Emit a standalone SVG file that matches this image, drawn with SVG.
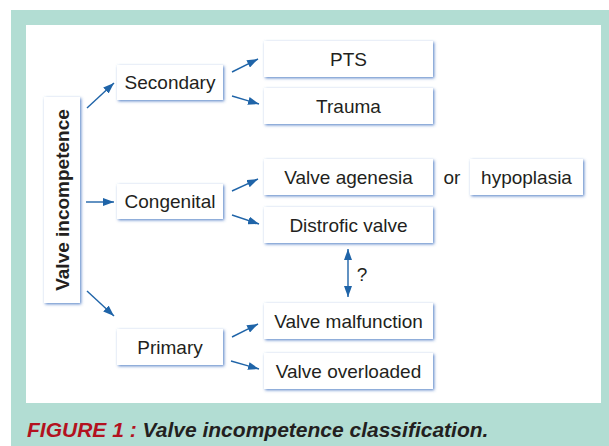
<svg xmlns="http://www.w3.org/2000/svg" width="609" height="446" viewBox="0 0 609 446">
<style>
.box{fill:#fff;filter:url(#glow)}
.t{font-family:"Liberation Sans",Arial,sans-serif;font-size:19px;fill:#231f20;text-anchor:middle}
.c{stroke:#1f64a8;stroke-width:1.4;fill:none;marker-end:url(#ah)}
</style>
<defs>
<filter id="glow" x="-20%" y="-20%" width="140%" height="140%">
<feDropShadow dx="1.2" dy="1.2" stdDeviation="1.6" flood-color="#3f6fbf" flood-opacity="0.85"/>
</filter>
<marker id="ah" markerUnits="userSpaceOnUse" markerWidth="11" markerHeight="8" refX="11" refY="4" orient="auto-start-reverse">
<path d="M0,0 L11,4 L0,8 z" fill="#1f64a8"/>
</marker>
</defs>
<rect x="11" y="10" width="598" height="436" fill="#b2ddd3"/>
<rect x="26" y="25" width="575" height="378" fill="#fff"/>

<g id="valve-incompetence">
<rect class="box" x="44" y="97" width="36" height="206"/>
<text class="t" transform="translate(68.5,200) rotate(-90)" style="font-weight:bold">Valve incompetence</text>
</g>
<g id="secondary"><rect class="box" x="117" y="65" width="106" height="35"/><text class="t" x="170" y="89">Secondary</text></g>
<g id="congenital"><rect class="box" x="117" y="184" width="106" height="35"/><text class="t" x="170" y="208">Congenital</text></g>
<g id="primary"><rect class="box" x="117" y="329" width="106" height="36"/><text class="t" x="170" y="354">Primary</text></g>
<g id="pts"><rect class="box" x="264" y="41" width="169" height="36"/><text class="t" x="348.5" y="66">PTS</text></g>
<g id="trauma"><rect class="box" x="264" y="88" width="169" height="36"/><text class="t" x="348.5" y="113">Trauma</text></g>
<g id="valve-agenesia"><rect class="box" x="264" y="159" width="169" height="36"/><text class="t" x="348.5" y="184">Valve agenesia</text></g>
<g id="hypoplasia"><rect class="box" x="470" y="159" width="113" height="36"/><text class="t" x="526.5" y="184">hypoplasia</text></g>
<g id="distrofic-valve"><rect class="box" x="264" y="207" width="169" height="36"/><text class="t" x="348.5" y="232">Distrofic valve</text></g>
<g id="valve-malfunction"><rect class="box" x="264" y="303" width="169" height="36"/><text class="t" x="348.5" y="328">Valve malfunction</text></g>
<g id="valve-overloaded"><rect class="box" x="264" y="353" width="169" height="36"/><text class="t" x="348.5" y="378">Valve overloaded</text></g>
<text class="t" x="452" y="184">or</text>
<text class="t" x="362" y="281">?</text>

<g id="connectors">
<line class="c" x1="87" y1="108" x2="114" y2="83"/>
<line class="c" x1="86" y1="202" x2="114" y2="202"/>
<line class="c" x1="87" y1="291" x2="114" y2="316"/>
<line class="c" x1="232" y1="72" x2="258" y2="59"/>
<line class="c" x1="232" y1="96" x2="259" y2="104"/>
<line class="c" x1="232" y1="191" x2="258" y2="179"/>
<line class="c" x1="232" y1="215" x2="259" y2="224"/>
<line class="c" x1="232" y1="337" x2="258" y2="324"/>
<line class="c" x1="231" y1="361" x2="259" y2="369"/>
<line class="c" x1="348" y1="249" x2="348" y2="297" style="marker-start:url(#ah)"/>
</g>

<text x="27" y="437" style="font-family:'Liberation Sans',Arial,sans-serif;font-size:21px;font-style:italic;font-weight:bold;fill:#231f20"><tspan fill="#b3121f">FIGURE 1 :</tspan> Valve incompetence classification.</text>
</svg>
